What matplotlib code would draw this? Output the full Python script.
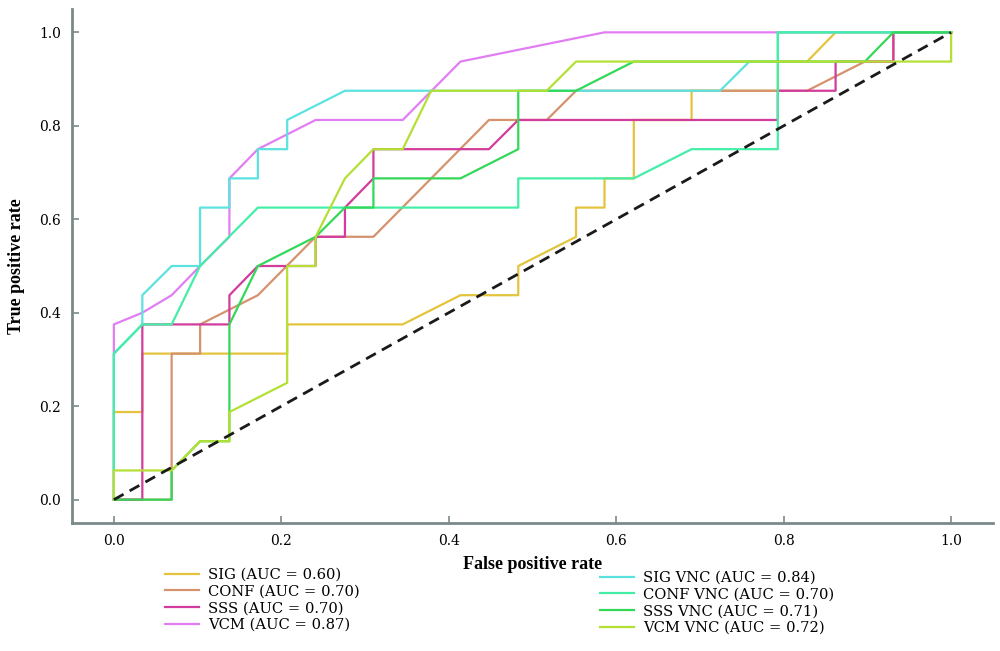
import matplotlib
matplotlib.use("Agg")
import matplotlib.pyplot as plt

# ROC curves (fpr steps of 1/29, tpr steps of 1/16)
sig_fpr = [0, 0, 0.034, 0.034, 0.207, 0.207, 0.345, 0.414, 0.483, 0.483, 0.552, 0.552, 0.586, 0.586,
           0.621, 0.621, 0.690, 0.690, 0.793, 0.793, 0.828, 0.862, 1.0]
sig_tpr = [0, 0.1875, 0.1875, 0.3125, 0.3125, 0.375, 0.375, 0.4375, 0.4375, 0.5, 0.5625, 0.625, 0.625, 0.6875,
           0.6875, 0.8125, 0.8125, 0.875, 0.875, 0.9375, 0.9375, 1.0, 1.0]

conf_fpr = [0, 0.069, 0.069, 0.103, 0.103, 0.172, 0.241, 0.310, 0.448, 0.517, 0.552, 0.828, 0.897, 0.931, 0.931, 1.0]
conf_tpr = [0, 0, 0.3125, 0.3125, 0.375, 0.4375, 0.5625, 0.5625, 0.8125, 0.8125, 0.875, 0.875, 0.9375, 0.9375, 1.0, 1.0]

sss_fpr = [0, 0.034, 0.034, 0.138, 0.138, 0.172, 0.241, 0.241, 0.276, 0.276, 0.310, 0.310, 0.448, 0.483,
           0.793, 0.793, 0.862, 0.862, 0.931, 0.931, 1.0]
sss_tpr = [0, 0, 0.375, 0.375, 0.4375, 0.5, 0.5, 0.5625, 0.5625, 0.625, 0.6875, 0.75, 0.75, 0.8125,
           0.8125, 0.875, 0.875, 0.9375, 0.9375, 1.0, 1.0]

vcm_fpr = [0, 0, 0.034, 0.069, 0.103, 0.138, 0.138, 0.172, 0.241, 0.345, 0.414, 0.586, 1.0]
vcm_tpr = [0, 0.375, 0.40, 0.4375, 0.5, 0.5625, 0.6875, 0.75, 0.8125, 0.8125, 0.9375, 1.0, 1.0]

sigv_fpr = [0, 0, 0.034, 0.034, 0.069, 0.103, 0.103, 0.138, 0.138, 0.172, 0.172, 0.207, 0.207, 0.276,
            0.724, 0.759, 0.793, 0.793, 1.0]
sigv_tpr = [0, 0.3125, 0.375, 0.4375, 0.5, 0.5, 0.625, 0.625, 0.6875, 0.6875, 0.75, 0.75, 0.8125, 0.875,
            0.875, 0.9375, 0.9375, 1.0, 1.0]

confv_fpr = [0, 0, 0.034, 0.069, 0.103, 0.172, 0.483, 0.483, 0.621, 0.690, 0.793, 0.793, 1.0]
confv_tpr = [0, 0.3125, 0.375, 0.375, 0.5, 0.625, 0.625, 0.6875, 0.6875, 0.75, 0.75, 1.0, 1.0]

sssv_fpr = [0, 0.069, 0.069, 0.103, 0.138, 0.138, 0.172, 0.241, 0.276, 0.310, 0.310, 0.414, 0.483, 0.483,
            0.552, 0.621, 0.897, 0.931, 1.0]
sssv_tpr = [0, 0, 0.0625, 0.125, 0.125, 0.375, 0.5, 0.5625, 0.625, 0.625, 0.6875, 0.6875, 0.75, 0.875,
            0.875, 0.9375, 0.9375, 1.0, 1.0]

vcmv_fpr = [0, 0, 0.069, 0.103, 0.138, 0.138, 0.207, 0.207, 0.241, 0.241, 0.276, 0.310, 0.345, 0.379,
            0.517, 0.552, 1.0, 1.0]
vcmv_tpr = [0, 0.0625, 0.0625, 0.125, 0.125, 0.1875, 0.25, 0.5, 0.5, 0.5625, 0.6875, 0.75, 0.75, 0.875,
            0.875, 0.9375, 0.9375, 1.0]

labels_left = ["SIG (AUC = 0.60)", "CONF (AUC = 0.70)", "SSS (AUC = 0.70)", "VCM (AUC = 0.87)"]
labels_right = ["SIG VNC (AUC = 0.84)", "CONF VNC (AUC = 0.70)", "SSS VNC (AUC = 0.71)", "VCM VNC (AUC = 0.72)"]

colors_left = ["#e3c43c", "#d4926e", "#d23c9c", "#e07ef2"]
colors_right = ["#5ce2e0", "#44eea6", "#34d858", "#b4e034"]

serif = ["DejaVu Serif"]

fig = plt.figure(figsize=(10, 6.51), dpi=100)
ax = fig.add_axes([0.072, 0.1966, 0.921, 0.7896])

curves_left = [(sig_fpr, sig_tpr), (conf_fpr, conf_tpr), (sss_fpr, sss_tpr), (vcm_fpr, vcm_tpr)]
curves_right = [(sigv_fpr, sigv_tpr), (confv_fpr, confv_tpr), (sssv_fpr, sssv_tpr), (vcmv_fpr, vcmv_tpr)]

h_left = []
for (x, y), c, lab in zip(curves_left, colors_left, labels_left):
    h, = ax.plot(x, y, color=c, lw=1.6, label=lab)
    h_left.append(h)
h_right = []
for (x, y), c, lab in zip(curves_right, colors_right, labels_right):
    h, = ax.plot(x, y, color=c, lw=1.6, label=lab)
    h_right.append(h)

# chance line
ax.plot([0, 1], [0, 1], color="#1a1a1a", lw=2, ls=(0, (4, 2.5)))

ax.set_xlim(-0.05, 1.05)
ax.set_ylim(-0.05, 1.05)
ax.set_xticks([0, 0.2, 0.4, 0.6, 0.8, 1.0])
ax.set_yticks([0, 0.2, 0.4, 0.6, 0.8, 1.0])
ax.set_xticklabels(["0.0", "0.2", "0.4", "0.6", "0.8", "1.0"], family=serif, fontsize=10)
ax.set_yticklabels(["0.0", "0.2", "0.4", "0.6", "0.8", "1.0"], family=serif, fontsize=10)
ax.tick_params(direction="in", length=5, color="#7a8a8a", width=1.2, pad=8)

for side in ["top", "right"]:
    ax.spines[side].set_visible(False)
for side in ["left", "bottom"]:
    ax.spines[side].set_color("#7a8a8a")
    ax.spines[side].set_linewidth(2)

ax.set_xlabel("False positive rate", family=["Liberation Serif"], fontweight="bold", fontsize=13, labelpad=6)
ax.set_ylabel("True positive rate", family=["Liberation Serif"], fontweight="bold", fontsize=13, labelpad=10)

leg_kw = dict(frameon=False, prop={"family": serif, "size": 10.6}, labelspacing=0.18,
              handlelength=2.3, handletextpad=0.6, borderpad=0, borderaxespad=0, loc="upper left")
fig.legend(handles=h_left, bbox_to_anchor=(0.165, 1 - 568 / 651), **leg_kw)
fig.legend(handles=h_right, bbox_to_anchor=(0.600, 1 - 571 / 651), **leg_kw)

plt.savefig("out.png", dpi=100)
